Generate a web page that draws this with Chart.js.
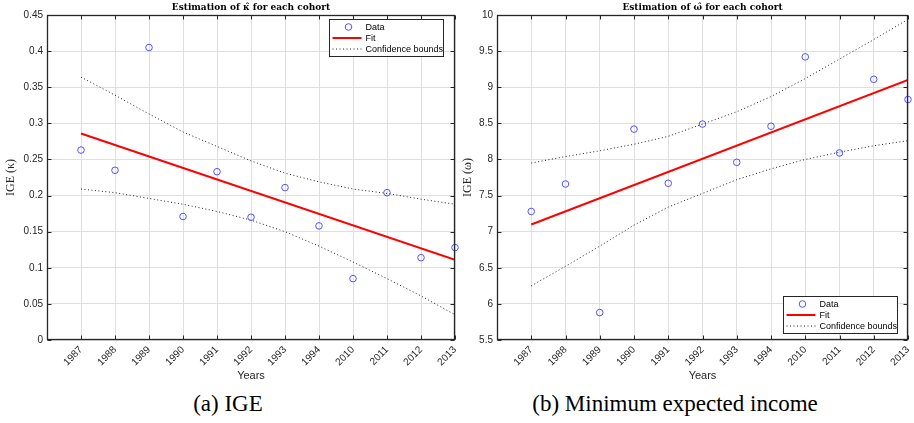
<!DOCTYPE html>
<html>
<head>
<meta charset="utf-8">
<script src="https://cdn.jsdelivr.net/npm/chart.js@4.4.1/dist/chart.umd.min.js"></script>
<style>
  body { margin: 0; background: #fff; width: 914px; height: 423px; overflow: hidden; position: relative; }
  canvas { position: absolute; top: 0; }
  #kappaChart { left: 0; }
  #omegaChart { left: 460px; }
  .caption { position: absolute; top: 391px; font-family: "Liberation Serif", serif; font-size: 23px; color: #000; text-align: center; white-space: nowrap; }
</style>
</head>
<body>
<canvas id="kappaChart" width="460" height="386"></canvas>
<canvas id="omegaChart" width="454" height="386"></canvas>
<div class="caption" style="left:118px;width:220px">(a) IGE</div>
<div class="caption" style="left:515px;width:320px">(b) Minimum expected income</div>
<script>
const years = ['1987', '1988', '1989', '1990', '1991', '1992', '1993', '1994', '2010', '2011', '2012', '2013'];

// kappa (IGE)
const kappaData = [0.263, 0.235, 0.405, 0.171, 0.233, 0.170, 0.211, 0.158, 0.085, 0.204, 0.114, 0.128];
const kappaFit = [0.286, 0.111];   // first and last year
const kappaUpper = [0.364, 0.339, 0.313, 0.288, 0.268, 0.248, 0.231, 0.219, 0.209, 0.203, 0.195, 0.188];
const kappaLower = [0.209, 0.204, 0.196, 0.188, 0.178, 0.166, 0.150, 0.130, 0.108, 0.085, 0.061, 0.035];

// omega (minimum expected income)
const omegaData = [7.28, 7.66, 5.88, 8.42, 7.67, 8.49, 7.96, 8.46, 9.42, 8.09, 9.11, 8.83];
const omegaFit = [7.10, 9.10];
const omegaUpper = [7.95, 8.04, 8.12, 8.21, 8.32, 8.49, 8.66, 8.87, 9.12, 9.39, 9.66, 9.94];
const omegaLower = [6.25, 6.52, 6.80, 7.09, 7.34, 7.53, 7.72, 7.87, 8.00, 8.10, 8.19, 8.26];

const axisColor = '#262626';
const gridColor = '#dfdfdf';

// box round the plot with inward ticks on all four sides
const boxFrame = {
    id: 'boxFrame',
    afterDatasetsDraw(chart) {
        const {ctx, chartArea: a, scales} = chart;
        const L = Math.round(a.left) + 0.5, R = Math.round(a.right) - 0.5;
        const T = Math.round(a.top) + 0.5, B = Math.round(a.bottom) - 0.5;
        ctx.save();
        ctx.strokeStyle = axisColor;
        ctx.lineWidth = 1;
        ctx.beginPath();
        scales.x.ticks.forEach(t => {
            const px = Math.round(scales.x.getPixelForValue(t.value)) + 0.5;
            ctx.moveTo(px, T); ctx.lineTo(px, T + 4);
            ctx.moveTo(px, B); ctx.lineTo(px, B - 4);
        });
        scales.y.ticks.forEach(t => {
            const py = Math.round(scales.y.getPixelForValue(t.value)) + 0.5;
            ctx.moveTo(L, py); ctx.lineTo(L + 4, py);
            ctx.moveTo(R, py); ctx.lineTo(R - 4, py);
        });
        ctx.stroke();
        ctx.lineWidth = 1.3;
        ctx.strokeRect(L, T, R - L, B - T);
        ctx.restore();
    }
};

// matlab style legend inside the axes
const boxLegend = {
    id: 'boxLegend',
    afterDraw(chart, args, opts) {
        const {ctx, chartArea: a} = chart;
        const items = chart.data.datasets.filter(d => !d.noLegend);
        const w = 114, rowH = 11, h = items.length * rowH + 4;
        const x0 = Math.round(a.right - opts.right - w) + 0.5;
        const y0 = Math.round(opts.corner === 'top' ? a.top + opts.offset : a.bottom - opts.offset - h) + 0.5;
        ctx.save();
        ctx.fillStyle = '#fff';
        ctx.fillRect(x0, y0, w, h);
        ctx.strokeStyle = axisColor;
        ctx.lineWidth = 1;
        ctx.strokeRect(x0, y0, w, h);
        ctx.font = '9px "Liberation Sans", Arial, sans-serif';
        ctx.textBaseline = 'middle';
        items.forEach((d, i) => {
            const cy = y0 + 7.5 + i * rowH;
            ctx.strokeStyle = d.borderColor;
            ctx.lineWidth = d.borderWidth;
            if (d.showLine) {
                ctx.setLineDash(d.borderDash || []);
                ctx.beginPath();
                ctx.moveTo(x0 + 3, cy); ctx.lineTo(x0 + 32, cy);
                ctx.stroke();
                ctx.setLineDash([]);
            } else {
                ctx.beginPath();
                ctx.arc(x0 + 19, cy, d.pointRadius, 0, Math.PI * 2);
                ctx.stroke();
            }
            ctx.fillStyle = '#000';
            ctx.fillText(d.label, x0 + 36, cy + 0.5);
        });
        ctx.restore();
    }
};

function toPoints(values) {
    return values.map((v, i) => ({x: i, y: v}));
}

function fitPoints(ends) {
    return [{x: 0, y: ends[0]}, {x: years.length - 1, y: ends[1]}];
}

function makeChart(id, o) {
    const ctx = document.getElementById(id).getContext('2d');
    return new Chart(ctx, {
        type: 'scatter',
        data: {
            datasets: [
                {label: 'Data', data: toPoints(o.data), showLine: false, pointStyle: 'circle',
                    pointRadius: 3.3, pointHoverRadius: 3.3, borderColor: '#5252ff', backgroundColor: 'rgba(0,0,0,0)',
                    borderWidth: 1, clip: false},
                {label: 'Fit', data: fitPoints(o.fit), showLine: true, borderColor: 'rgb(255,0,0)',
                    borderWidth: 2, pointRadius: 0},
                {label: 'Confidence bounds', data: toPoints(o.upper), showLine: true, borderColor: '#222',
                    borderWidth: 1, borderDash: [1, 2.5], pointRadius: 0},
                {label: 'Confidence bounds', data: toPoints(o.lower), showLine: true, borderColor: '#222',
                    borderWidth: 1, borderDash: [1, 2.5], pointRadius: 0, noLegend: true}
            ]
        },
        options: {
            responsive: false,
            animation: false,
            layout: {padding: {left: 0, right: o.padRight, top: 0, bottom: 0}},
            plugins: {
                legend: {display: false},
                tooltip: {enabled: false},
                title: {
                    display: true, text: o.title, fullSize: false, color: '#000',
                    font: {family: '"DejaVu Serif", serif', size: 9, weight: 'bold', lineHeight: 1.25},
                    padding: {top: 2, bottom: 1.75}
                },
                boxLegend: o.legend
            },
            scales: {
                x: {
                    type: 'linear', min: -1, max: years.length - 1,
                    afterBuildTicks: s => { s.ticks = years.map((_, i) => ({value: i})); },
                    afterFit: s => { s.height = 46; s.paddingLeft = 0; s.paddingRight = 0; },
                    grid: {color: gridColor, drawTicks: false},
                    border: {display: false},
                    ticks: {
                        autoSkip: false, maxRotation: 45, minRotation: 45, padding: 4, color: axisColor,
                        font: {family: '"Liberation Sans", Arial, sans-serif', size: 10},
                        callback: v => years[v] || ''
                    },
                    title: {
                        display: true, text: 'Years', color: axisColor,
                        font: {family: '"Liberation Sans", Arial, sans-serif', size: 11},
                        padding: {top: 0, bottom: 3}
                    }
                },
                y: {
                    min: o.yMin, max: o.yMax,
                    afterFit: s => { s.width = o.yWidth; s.paddingTop = 0; s.paddingBottom = 0; },
                    grid: {color: gridColor, drawTicks: false},
                    border: {display: false},
                    ticks: {
                        stepSize: o.yStep, padding: 4, color: axisColor,
                        font: {family: '"Liberation Sans", Arial, sans-serif', size: 10},
                        callback: v => String(+v.toFixed(2))
                    },
                    title: {
                        display: true, text: o.yTitle, color: axisColor,
                        font: {family: '"Liberation Serif", serif', size: 12},
                        padding: {top: o.yTitlePad, bottom: 0}
                    }
                }
            }
        },
        plugins: [boxFrame, boxLegend]
    });
}

makeChart('kappaChart', {
    data: kappaData, fit: kappaFit, upper: kappaUpper, lower: kappaLower,
    title: 'Estimation of \u03BA\u0302 for each cohort',
    yTitle: 'IGE (\u03BA)', yMin: 0, yMax: 0.45, yStep: 0.05, yWidth: 47, yTitlePad: 4,
    padRight: 5,
    legend: {corner: 'top', offset: 4, right: 12}
});

makeChart('omegaChart', {
    data: omegaData, fit: omegaFit, upper: omegaUpper, lower: omegaLower,
    title: 'Estimation of \u03C9\u0302 for each cohort',
    yTitle: 'IGE (\u03C9)', yMin: 5.5, yMax: 10, yStep: 0.5, yWidth: 37, yTitlePad: 1,
    padRight: 6,
    legend: {corner: 'bottom', offset: 7, right: 11}
});
</script>
</body>
</html>
